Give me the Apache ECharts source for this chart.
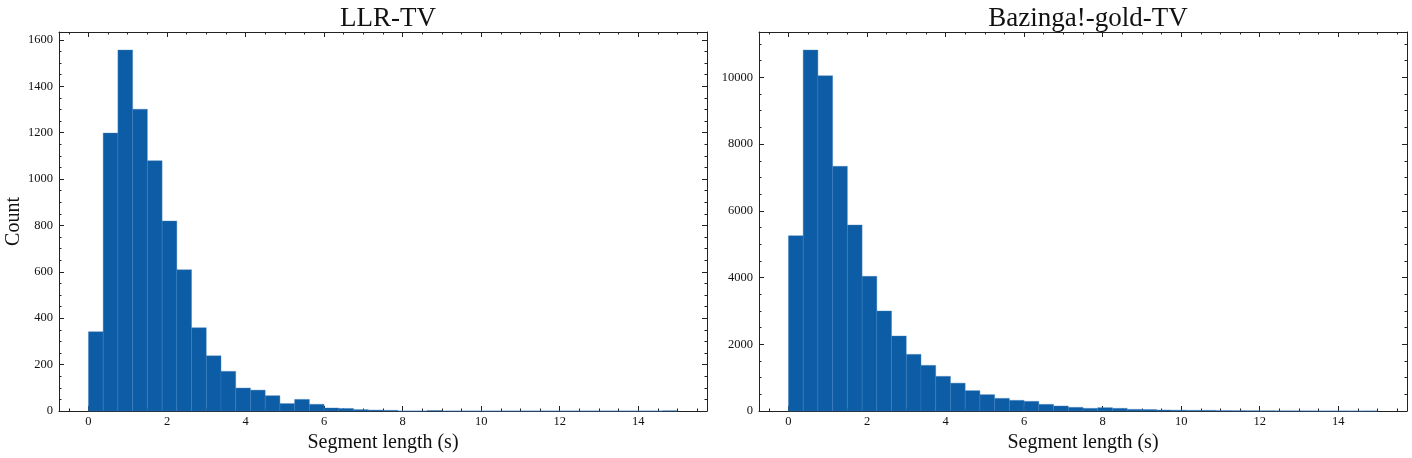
<!DOCTYPE html>
<html>
<head>
<meta charset="utf-8">
<script src="https://cdn.jsdelivr.net/npm/echarts@6/dist/echarts.min.js"></script>
<style>
  html, body { margin: 0; padding: 0; background: #fff; }
  #chart { width: 1412px; height: 458px; }
</style>
</head>
<body>
<div id="chart"></div>
<script>
// histogram bins: 40 bins of 0.375 s from 0 to 15
const binStart = 0
const binWidth = 0.375
const llrCounts = [342, 1198, 1556, 1301, 1079, 819, 609, 359, 238, 171,
  99, 90, 66, 32, 50, 29, 13, 11, 6, 4,
  3, 0, 0, 2, 0, 0, 0, 0, 0, 0,
  0, 0, 0, 0, 0, 0, 0, 0, 0, 1]
const bazCounts = [5255, 10819, 10050, 7333, 5574, 4036, 2997, 2248, 1698, 1369,
  1039, 835, 610, 490, 380, 320, 290, 200, 150, 110,
  80, 100, 80, 50, 45, 30, 25, 20, 20, 12,
  10, 8, 6, 4, 3, 2, 1, 1, 0, 1]
const xMajor = [0, 2, 4, 6, 8, 10, 12, 14]
const llrYMajor = [0, 200, 400, 600, 800, 1000, 1200, 1400, 1600]
const bazYMajor = [0, 2000, 4000, 6000, 8000, 10000]

const FONT = 'Liberation Serif'
const BAR = '#0C5DA5'
const chart = echarts.init(document.getElementById('chart'))

const xMin = -0.75, xMax = 15.75

// minor ticks between majors (4 per major)
function minorVals(min, max, step, majorStep) {
  const out = []
  const start = Math.ceil(min / step) * step
  for (let v = start; v <= max + 1e-9; v += step) {
    const r = Math.round(v * 1000) / 1000
    if (Math.abs(r / majorStep - Math.round(r / majorStep)) > 1e-6) out.push(r)
  }
  return out
}

const grids = []
const xAxes = []
const yAxes = []
const series = []
const titles = []

function addPanel(idx, left, right, counts, yMajor, yMajorStep, title, showYName) {
  grids.push({ left: left, right: right, top: 32, bottom: 47, outerBoundsMode: 'none' })
  const yMax = Math.max(...counts) * 1.05
  const line = { show: true, onZero: false, lineStyle: { color: '#222', width: 1 } }
  const noLine = { show: false, onZero: false }
  const tickStyle = { color: '#222', width: 1 }
  const xBase = { type: 'value', gridIndex: idx, min: xMin, max: xMax, splitLine: { show: false } }
  const yBase = { type: 'value', gridIndex: idx, min: 0, max: yMax, splitLine: { show: false } }
  const xMinor = minorVals(xMin, xMax, 0.5, 2)
  const yMinor = minorVals(0, yMax, yMajorStep / 4, yMajorStep)
  const xi = xAxes.length
  const yi = yAxes.length
  const plain = v => String(v)
  // bottom x main
  xAxes.push(Object.assign({}, xBase, {
    position: 'bottom', axisLine: line,
    axisTick: { inside: true, length: 5, customValues: xMajor, lineStyle: tickStyle },
    axisLabel: { customValues: xMajor, formatter: plain, margin: 4, fontFamily: FONT, fontSize: 12.5, color: '#111' },
    name: 'Segment length (s)', nameLocation: 'middle', nameGap: 21,
    nameTextStyle: { fontFamily: FONT, fontSize: 20, color: '#111' }
  }))
  xAxes.push(Object.assign({}, xBase, {
    position: 'bottom', axisLine: noLine, axisLabel: { show: false },
    axisTick: { inside: true, length: 2.5, customValues: xMinor, lineStyle: tickStyle }
  }))
  xAxes.push(Object.assign({}, xBase, {
    position: 'top', axisLine: line, axisLabel: { show: false },
    axisTick: { inside: true, length: 5, customValues: xMajor, lineStyle: tickStyle }
  }))
  xAxes.push(Object.assign({}, xBase, {
    position: 'top', axisLine: noLine, axisLabel: { show: false },
    axisTick: { inside: true, length: 2.5, customValues: xMinor, lineStyle: tickStyle }
  }))
  // y axes
  const yMain = Object.assign({}, yBase, {
    position: 'left', axisLine: line,
    axisTick: { inside: true, length: 5, customValues: yMajor, lineStyle: tickStyle },
    axisLabel: { customValues: yMajor, formatter: plain, margin: 6, fontFamily: FONT, fontSize: 12.5, color: '#111' }
  })
  if (showYName) {
    yMain.name = 'Count'
    yMain.nameLocation = 'middle'
    yMain.nameGap = 35
    yMain.nameTextStyle = { fontFamily: FONT, fontSize: 20, color: '#111' }
  }
  yAxes.push(yMain)
  yAxes.push(Object.assign({}, yBase, {
    position: 'left', axisLine: noLine, axisLabel: { show: false },
    axisTick: { inside: true, length: 2.5, customValues: yMinor, lineStyle: tickStyle }
  }))
  yAxes.push(Object.assign({}, yBase, {
    position: 'right', axisLine: line, axisLabel: { show: false },
    axisTick: { inside: true, length: 5, customValues: yMajor, lineStyle: tickStyle }
  }))
  yAxes.push(Object.assign({}, yBase, {
    position: 'right', axisLine: noLine, axisLabel: { show: false },
    axisTick: { inside: true, length: 2.5, customValues: yMinor, lineStyle: tickStyle }
  }))

  series.push({
    type: 'custom',
    xAxisIndex: xi,
    yAxisIndex: yi,
    data: counts.map((c, i) => [binStart + i * binWidth, binStart + (i + 1) * binWidth, c]),
    encode: { x: [0, 1], y: 2 },
    renderItem: function (params, api) {
      const p0 = api.coord([api.value(0), api.value(2)])
      const p1 = api.coord([api.value(1), 0])
      return {
        type: 'rect',
        shape: { x: p0[0], y: p0[1], width: p1[0] - p0[0], height: p1[1] - p0[1] },
        style: { fill: BAR, stroke: '#3f7fc0', lineWidth: 0.4 }
      }
    }
  })

  titles.push({
    text: title,
    left: left + (1412 - left - right) / 2,
    textAlign: 'center',
    top: 0,
    textStyle: { fontFamily: FONT, fontSize: 27, fontWeight: 'normal', color: '#111' }
  })
}

addPanel(0, 59, 705, llrCounts, llrYMajor, 200, 'LLR-TV', true)
addPanel(1, 759, 5, bazCounts, bazYMajor, 2000, 'Bazinga!-gold-TV', false)

chart.setOption({
  animation: false,
  backgroundColor: '#fff',
  title: titles,
  grid: grids,
  xAxis: xAxes,
  yAxis: yAxes,
  series: series
})
</script>
</body>
</html>
